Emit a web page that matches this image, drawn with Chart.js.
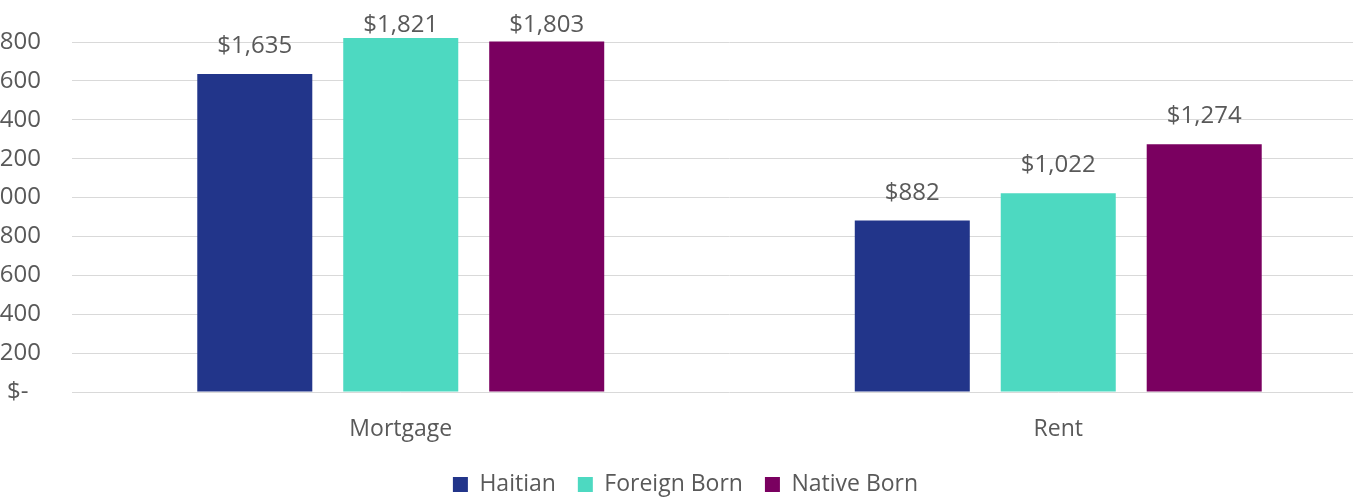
<!DOCTYPE html>
<html lang="en">
<head>
    <meta charset="UTF-8">
    <title>Housing costs</title>
    <script src="https://cdn.jsdelivr.net/npm/chart.js"></script>
    <style>
        html, body {
            margin: 0;
            padding: 0;
            background: #ffffff;
            overflow: hidden;
            width: 1359px;
            height: 502px;
        }
        /* the original picture is cropped on both sides */
        #wrap {
            position: absolute;
            left: -16px;
            top: 0;
            width: 1403px;
            height: 506px;
        }
    </style>
</head>
<body>
    <div id="wrap"><canvas id="costChart"></canvas></div>

    <script>
        const categories = ['Mortgage', 'Rent'];
        const haitian = [1635, 882];
        const foreignBorn = [1821, 1022];
        const nativeBorn = [1803, 1274];
        const seriesNames = ['Haitian', 'Foreign Born', 'Native Born'];
        const yTicks = [0, 200, 400, 600, 800, 1000, 1200, 1400, 1600, 1800];

        const textColor = '#595959';
        const fontFamily = "'Open Sans', 'Noto Sans', sans-serif";

        function money(v) {
            if (v === 0) return '$-  ';
            return '$' + v.toLocaleString('en-US');
        }

        // grid lines stop short of the plot's right edge in the original crop
        function gridColor(ctx) {
            const chart = ctx.chart;
            const area = chart.chartArea;
            if (!area) return '#d9d9d9';
            const g = chart.ctx.createLinearGradient(area.left, 0, area.right, 0);
            const s = 1 - 34 / (area.right - area.left);
            g.addColorStop(0, '#d9d9d9');
            g.addColorStop(s, '#d9d9d9');
            g.addColorStop(s, 'rgba(217,217,217,0)');
            g.addColorStop(1, 'rgba(217,217,217,0)');
            return g;
        }

        const valueLabels = {
            id: 'valueLabels',
            afterDatasetsDraw(chart) {
                const ctx = chart.ctx;
                ctx.save();
                ctx.font = '24px ' + fontFamily;
                ctx.fillStyle = textColor;
                ctx.textAlign = 'center';
                ctx.textBaseline = 'alphabetic';
                chart.data.datasets.forEach((ds, i) => {
                    chart.getDatasetMeta(i).data.forEach((bar, j) => {
                        // keep labels inside the chart, as the spreadsheet does
                        const y = Math.max(bar.y - 21, 32);
                        ctx.fillText(money(ds.data[j]), bar.x, y);
                    });
                });
                ctx.restore();
            }
        };

        const ctx = document.getElementById('costChart').getContext('2d');
        const costChart = new Chart(ctx, {
            type: 'bar',
            data: {
                labels: categories,
                datasets: [
                    { label: seriesNames[0], data: haitian, backgroundColor: '#22358a' },
                    { label: seriesNames[1], data: foreignBorn, backgroundColor: '#4dd9c1' },
                    { label: seriesNames[2], data: nativeBorn, backgroundColor: '#7a0060' }
                ]
            },
            options: {
                responsive: true,
                maintainAspectRatio: false,
                animation: false,
                categoryPercentage: 0.666,
                barPercentage: 0.788,
                datasets: { bar: { clip: false } },
                layout: { padding: { top: 42, right: 0, left: 0, bottom: 0 } },
                plugins: {
                    legend: {
                        position: 'bottom',
                        labels: {
                            color: textColor,
                            font: { family: fontFamily, size: 23 },
                            boxWidth: 15,
                            boxHeight: 15,
                            padding: 22
                        }
                    },
                    tooltip: { enabled: false }
                },
                scales: {
                    x: {
                        grid: { display: false },
                        border: { display: false },
                        ticks: {
                            color: textColor,
                            font: { family: fontFamily, size: 23 },
                            padding: 16
                        },
                        afterFit(scale) { scale.height = 59; }
                    },
                    y: {
                        min: yTicks[0],
                        max: yTicks[yTicks.length - 1],
                        afterBuildTicks(scale) {
                            scale.ticks = yTicks.map(v => ({ value: v }));
                        },
                        grid: { color: gridColor, drawTicks: false },
                        border: { display: false },
                        ticks: {
                            color: textColor,
                            font: { family: fontFamily, size: 24 },
                            padding: 31,
                            callback: v => money(v)
                        },
                        afterFit(scale) {
                            scale.width = 88;
                            scale.paddingTop = 0;
                            scale.paddingBottom = 0;
                        }
                    }
                }
            },
            plugins: [valueLabels]
        });
    </script>
</body>
</html>
